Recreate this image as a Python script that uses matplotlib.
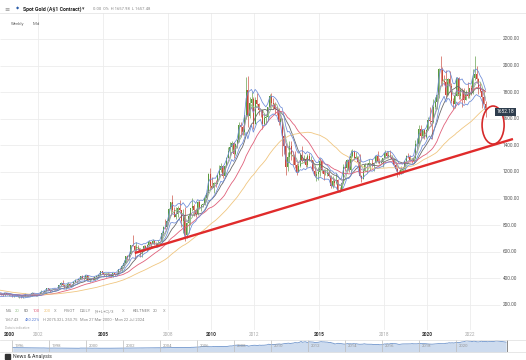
import numpy as np
import pandas as pd
import matplotlib
matplotlib.use("Agg")
import matplotlib.pyplot as plt
from matplotlib.patches import Ellipse, Rectangle

plt.rcParams['font.family'] = ['Roboto', 'DejaVu Sans']

# ---------------- data (monthly, USD spot gold) ----------------
# closes Jan 1996 - Feb 2000 (history before the visible window, used for averages / navigator)
pre_close = [405, 400, 396, 392, 390, 382, 385, 386, 379, 379, 372, 369,
             345, 364, 348, 340, 345, 334, 326, 325, 332, 311, 296, 290,
             302, 297, 301, 310, 293, 296, 288, 273, 294, 292, 294, 288,
             287, 287, 280, 286, 268, 262, 255, 255, 299, 300, 292, 290,
             283, 293]

# Mar 2000 - Sep 2022
close = [278, 275, 272, 288, 276, 277, 273, 264, 270, 272,
         265, 267, 258, 264, 268, 270, 266, 273, 293, 279, 275, 277,
         282, 297, 301, 308, 326, 318, 304, 312, 324, 317, 318, 347,
         368, 347, 334, 336, 361, 346, 354, 375, 388, 386, 398, 416,
         403, 397, 427, 387, 394, 395, 391, 409, 416, 429, 453, 438,
         422, 435, 428, 435, 418, 437, 429, 434, 473, 470, 496, 513,
         569, 556, 582, 654, 644, 614, 633, 624, 599, 604, 647, 632,
         651, 672, 662, 680, 659, 650, 666, 672, 743, 789, 783, 834,
         923, 972, 916, 865, 886, 930, 918, 832, 880, 730, 815, 869,
         928, 942, 916, 887, 975, 927, 954, 955, 1001, 1040, 1182, 1096,
         1081, 1116, 1113, 1180, 1213, 1244, 1169, 1248, 1307, 1357, 1386, 1421,
         1333, 1410, 1439, 1556, 1536, 1500, 1628, 1813, 1620, 1722, 1746, 1564,
         1740, 1710, 1669, 1664, 1561, 1604, 1615, 1687, 1772, 1719, 1714, 1675,
         1663, 1578, 1597, 1472, 1393, 1234, 1312, 1396, 1326, 1323, 1253, 1202,
         1244, 1326, 1284, 1296, 1250, 1322, 1282, 1287, 1211, 1171, 1182, 1199,
         1284, 1212, 1183, 1183, 1190, 1172, 1095, 1135, 1115, 1142, 1065, 1061,
         1118, 1238, 1233, 1293, 1215, 1322, 1351, 1309, 1316, 1277, 1173, 1146,
         1211, 1249, 1249, 1268, 1268, 1242, 1269, 1322, 1280, 1271, 1275, 1303,
         1345, 1318, 1325, 1315, 1299, 1253, 1224, 1201, 1192, 1215, 1222, 1282,
         1321, 1313, 1292, 1284, 1305, 1409, 1414, 1520, 1472, 1513, 1464, 1517,
         1589, 1585, 1577, 1686, 1730, 1781, 1975, 1968, 1886, 1878, 1777, 1898,
         1847, 1734, 1708, 1769, 1906, 1770, 1814, 1813, 1743, 1783, 1774, 1829,
         1796, 1909, 1937, 1897, 1837, 1807, 1766, 1711, 1652]

high = [298, 288, 280, 292, 291, 281, 277, 274, 272, 275,
        272, 269, 268, 267, 292, 275, 272, 278, 294, 293, 283, 281,
        285, 312, 304, 311, 327, 330, 323, 315, 326, 326, 323, 349,
        372, 389, 356, 339, 372, 366, 359, 376, 392, 390, 399, 417,
        427, 412, 428, 428, 398, 400, 407, 412, 417, 430, 457, 456,
        440, 438, 447, 438, 435, 442, 431, 447, 474, 479, 497, 541,
        570, 575, 586, 654, 730, 652, 675, 650, 632, 612, 649, 648,
        655, 690, 672, 693, 690, 672, 686, 674, 745, 795, 845, 841,
        932, 975, 1030, 940, 935, 945, 988, 917, 920, 940, 825, 890,
        930, 1007, 960, 920, 981, 990, 962, 966, 1024, 1070, 1195, 1227,
        1162, 1127, 1140, 1180, 1249, 1266, 1245, 1250, 1310, 1388, 1424, 1432,
        1424, 1417, 1447, 1575, 1577, 1555, 1632, 1913, 1921, 1764, 1803, 1763,
        1764, 1791, 1719, 1676, 1670, 1640, 1625, 1692, 1788, 1796, 1754, 1723,
        1694, 1679, 1617, 1605, 1487, 1417, 1348, 1434, 1434, 1361, 1361, 1267,
        1270, 1332, 1392, 1331, 1315, 1332, 1346, 1322, 1290, 1255, 1208, 1239,
        1308, 1293, 1222, 1225, 1232, 1205, 1174, 1170, 1157, 1191, 1147, 1088,
        1123, 1263, 1283, 1297, 1304, 1362, 1375, 1367, 1353, 1317, 1337, 1180,
        1219, 1264, 1264, 1295, 1270, 1296, 1270, 1331, 1357, 1306, 1299, 1307,
        1366, 1361, 1356, 1366, 1326, 1309, 1266, 1237, 1214, 1243, 1237, 1284,
        1326, 1346, 1325, 1303, 1306, 1439, 1453, 1555, 1557, 1517, 1516, 1523,
        1611, 1689, 1704, 1747, 1765, 1789, 1984, 2075, 1992, 1933, 1965, 1906,
        1959, 1871, 1755, 1798, 1913, 1916, 1832, 1834, 1834, 1814, 1877, 1831,
        1853, 1974, 2070, 1998, 1910, 1879, 1814, 1807, 1735]

low = [276, 274, 270, 271, 275, 270, 270, 263, 263, 268,
       263, 255, 255, 254, 263, 265, 264, 265, 271, 276, 271, 271,
       276, 281, 288, 300, 307, 315, 300, 302, 311, 311, 316, 318,
       344, 346, 326, 322, 336, 340, 342, 350, 372, 368, 381, 396,
       399, 391, 391, 386, 372, 385, 388, 390, 397, 415, 426, 433,
       418, 413, 424, 421, 414, 414, 418, 428, 433, 462, 456, 489,
       515, 540, 535, 582, 640, 543, 606, 611, 561, 560, 603, 610,
       603, 646, 638, 662, 654, 640, 650, 653, 670, 725, 775, 780,
       834, 880, 902, 860, 845, 860, 910, 786, 740, 681, 705, 740,
       805, 910, 866, 865, 880, 920, 905, 934, 950, 1000, 1040, 1075,
       1076, 1045, 1088, 1110, 1165, 1200, 1155, 1175, 1244, 1308, 1330, 1360,
       1309, 1330, 1383, 1423, 1462, 1478, 1478, 1602, 1535, 1603, 1668, 1522,
       1563, 1700, 1627, 1614, 1527, 1550, 1564, 1590, 1684, 1695, 1672, 1634,
       1625, 1555, 1562, 1321, 1338, 1180, 1208, 1272, 1290, 1251, 1227, 1180,
       1202, 1240, 1277, 1268, 1241, 1240, 1280, 1272, 1206, 1160, 1131, 1141,
       1167, 1191, 1142, 1175, 1170, 1162, 1077, 1078, 1098, 1107, 1053, 1046,
       1062, 1110, 1208, 1207, 1199, 1200, 1310, 1300, 1302, 1241, 1171, 1122,
       1146, 1208, 1195, 1242, 1214, 1236, 1205, 1267, 1271, 1260, 1264, 1236,
       1302, 1307, 1303, 1309, 1282, 1250, 1211, 1160, 1180, 1182, 1196, 1221,
       1276, 1306, 1280, 1266, 1266, 1301, 1381, 1400, 1459, 1458, 1445, 1458,
       1517, 1563, 1451, 1568, 1670, 1670, 1757, 1863, 1849, 1860, 1764, 1776,
       1802, 1717, 1677, 1678, 1770, 1750, 1750, 1688, 1721, 1746, 1759, 1753,
       1780, 1788, 1890, 1872, 1787, 1805, 1681, 1709, 1615]

y_ticks = [200, 400, 600, 800, 1000, 1200, 1400, 1600, 1800, 2000, 2200]
major_years = [2000, 2005, 2010, 2015, 2020]
minor_years = [2002, 2008, 2012, 2018, 2022]
nav_years = list(range(1996, 2021, 2))
ma_periods = [5, 12, 23, 46]            # 20/50/100/200 weeks expressed in months
trend_years = [2006.47, 2023.98]
trend_prices = [591, 1448]
last_price = 1652.18

# ---------------- derived series ----------------
all_close = pd.Series(pre_close + close, dtype=float)
t_all = 1996 + (np.arange(len(all_close)) + 0.5) / 12.0
n_pre = len(pre_close)
t = t_all[n_pre:]
c = np.array(close, float)
o = all_close.values[n_pre - 1:-1]
h = np.array(high, float)
l = np.array(low, float)

# ---------------- figure ----------------
W, H = 526, 360
fig = plt.figure(figsize=(W / 100, H / 100), dpi=100)

def fx(px):
    return px / W

def fy(py):
    return 1 - py / H

def ftext(px, py, s, **kw):
    kw.setdefault('va', 'center')
    fig.text(fx(px), fy(py), s, **kw)

# main chart axes spans px y 13..330
top_px, bot_px = 13, 330
ax = fig.add_axes([0, fy(bot_px), 1, (bot_px - top_px) / H])
ax.axis('off')
PXY = 21.6          # px per year
PPU = 0.133         # px per price unit
def yr_of(px):
    return 2005 + (px - 103) / PXY
def pr_of(py):
    return 200 + (305 - py) / PPU
ax.set_xlim(yr_of(0), yr_of(W))
ax.set_ylim(pr_of(bot_px), pr_of(top_px))

# grid
grid_c = '#ececec'
ax.hlines(y_ticks, yr_of(0), yr_of(500), color=grid_c, lw=0.6, zorder=0)
for yv in major_years[1:] + minor_years:
    ax.axvline(yv, color=grid_c, lw=0.6, zorder=0)
fig.add_artist(plt.Line2D([0, 1], [fy(13), fy(13)], color='#e6e6e6', lw=0.6))

# candles
up_c, dn_c = '#5a9a3e', '#c9473a'
cols = np.where(c >= o, up_c, dn_c)
ax.vlines(t, np.minimum(l, np.minimum(o, c)), np.maximum(h, np.maximum(o, c)),
          colors=cols, lw=0.45, zorder=2)
ax.bar(t, np.maximum(np.abs(c - o), 3), bottom=np.minimum(o, c), width=0.05,
       color=cols, lw=0, zorder=2)

# moving averages
ma_cols = ['#93c08a', '#6a6a6a', '#e0607a', '#f0c680']
for p, col in zip(ma_periods, ma_cols):
    ma = all_close.rolling(p, min_periods=1).mean().values[n_pre:]
    ax.plot(t, ma, color=col, lw=0.6, zorder=3)

# Keltner channel
cs = pd.Series(c)
mid = cs.ewm(span=5, adjust=False).mean()
prev_c = pd.Series(o)
tr = pd.concat([pd.Series(h - l), (pd.Series(h) - prev_c).abs(),
                (pd.Series(l) - prev_c).abs()], axis=1).max(axis=1)
atr = tr.ewm(span=5, adjust=False).mean()
ax.plot(t, mid, color='#9a7fbd', lw=0.55, zorder=3)
ax.plot(t, mid + 0.7 * atr, color='#6b8ad8', lw=0.55, zorder=3)
ax.plot(t, mid - 0.7 * atr, color='#6b8ad8', lw=0.55, zorder=3)

# trend line and ellipse annotation
ax.plot(trend_years, trend_prices, color='#e02b2b', lw=1.7, zorder=5,
        solid_capstyle='butt')
ax.add_patch(Ellipse((2023.06, 1553), 1.02, 286, fill=False,
                     edgecolor='#d62a2a', lw=1.2, zorder=6))

# y labels
for v in y_ticks:
    ax.text(yr_of(503), v, f"{v:.2f}", fontsize=3.4, color='#555555',
            ha='left', va='center', zorder=7)
ax.text(yr_of(497), last_price, f"{last_price:.2f}", fontsize=3.5,
        color='white', ha='left', va='center', zorder=8,
        bbox=dict(boxstyle='square,pad=0.35', fc='#2e3d4d', ec='none'))

# x labels
for yv in major_years:
    px = 103 + (yv - 2005) * PXY
    if yv == 2000:
        ftext(4, 334, str(yv), fontsize=3.4, color='#333333',
              fontweight='bold', ha='left')
    else:
        ftext(px, 334, str(yv), fontsize=3.4, color='#333333',
              fontweight='bold', ha='center')
for yv in minor_years:
    px = 103 + (yv - 2005) * PXY
    ftext(px, 334, str(yv), fontsize=3.4, color='#aaaaaa', ha='center')

# header
ftext(4, 9, '\u2261', fontsize=4.5, color='#888888', ha='left',
      family='DejaVu Sans')
ftext(16, 9, '\u25c6', fontsize=3, color='#2a5ca8', ha='left',
      family='DejaVu Sans')
ftext(23, 9, r'Spot Gold (A\$1 Contract)', fontsize=3.8, color='#222222',
      ha='left', fontweight='bold')
ftext(82, 9, '\u25be', fontsize=3.5, color='#444444', ha='left',
      family='DejaVu Sans')
ftext(93, 9, '0.00  0%  H 1657.98  L 1657.48', fontsize=3.0,
      color='#888888', ha='left')
ftext(11, 24, 'Weekly', fontsize=3.1, color='#666666', ha='left')
ftext(33, 24, 'Mid', fontsize=3.1, color='#666666', ha='left')

# indicator legend
leg = [(6, 'MA', '#888888'), (15, '20', '#9cc592'), (24, '50', '#555555'),
       (33, '100', '#e0607a'), (44, '200', '#f0c680'), (54, 'X', '#999999'),
       (64, 'PIVOT', '#888888'), (80, 'DAILY', '#888888'),
       (95, '(H+L+C)/3', '#888888'), (122, 'X', '#999999'),
       (133, 'KELTNER', '#888888'), (153, '20', '#888888'),
       (163, 'X', '#999999')]
for px, s, col in leg:
    ftext(px, 311, s, fontsize=3.0, color=col, ha='left')
leg2 = [(5, '1567.43', '#888888'), (25, '480.22%', '#5b7fd6'),
        (43, 'H 2075.32', '#888888'), (62, 'L 253.75', '#888888'),
        (80, 'Mon 27 Mar 2000 - Mon 22 Jul 2024', '#888888')]
for px, s, col in leg2:
    ftext(px, 320, s, fontsize=2.9, color=col, ha='left')
ftext(5, 328, 'Data is indicative', fontsize=2.3, color='#aaaaaa', ha='left')

# navigator
nav_top, nav_bot = 340, 352
nax = fig.add_axes([0, fy(nav_bot), 1, (nav_bot - nav_top) / H])
nax.axis('off')
NPX = 18.5
def nyr(px):
    return 1996 + (px - 12) / NPX
nax.set_xlim(nyr(0), nyr(W))
nax.set_ylim(-600, 2150)
nax.fill_between(t_all, -600, all_close.values, color='#cddbee', lw=0)
nax.plot(t_all, all_close.values, color='#6f95cc', lw=0.6)
for yv in nav_years:
    nax.axvline(yv, color='#bbbbbb', lw=0.5)
    nax.text(yv + 3 / NPX, 0.5, str(yv), fontsize=3.1, color='#999999',
             ha='left', va='center', transform=nax.get_xaxis_transform())
nax.axvline(t_all[-1] + 1 / 24, color='#777777', lw=0.6)
fig.add_artist(plt.Line2D([0, 1], [fy(nav_top), fy(nav_top)],
                          color='#dddddd', lw=0.5))
fig.add_artist(plt.Line2D([0, 1], [fy(nav_bot), fy(nav_bot)],
                          color='#dddddd', lw=0.5))

# news section
fig.add_artist(Rectangle((fx(5), fy(359)), fx(5), 5 / H, color='#333333',
                         transform=fig.transFigure))
ftext(13, 356.5, 'News & Analysis', fontsize=3.8, color='#333333', ha='left')

fig.savefig('out.png', dpi=100)
